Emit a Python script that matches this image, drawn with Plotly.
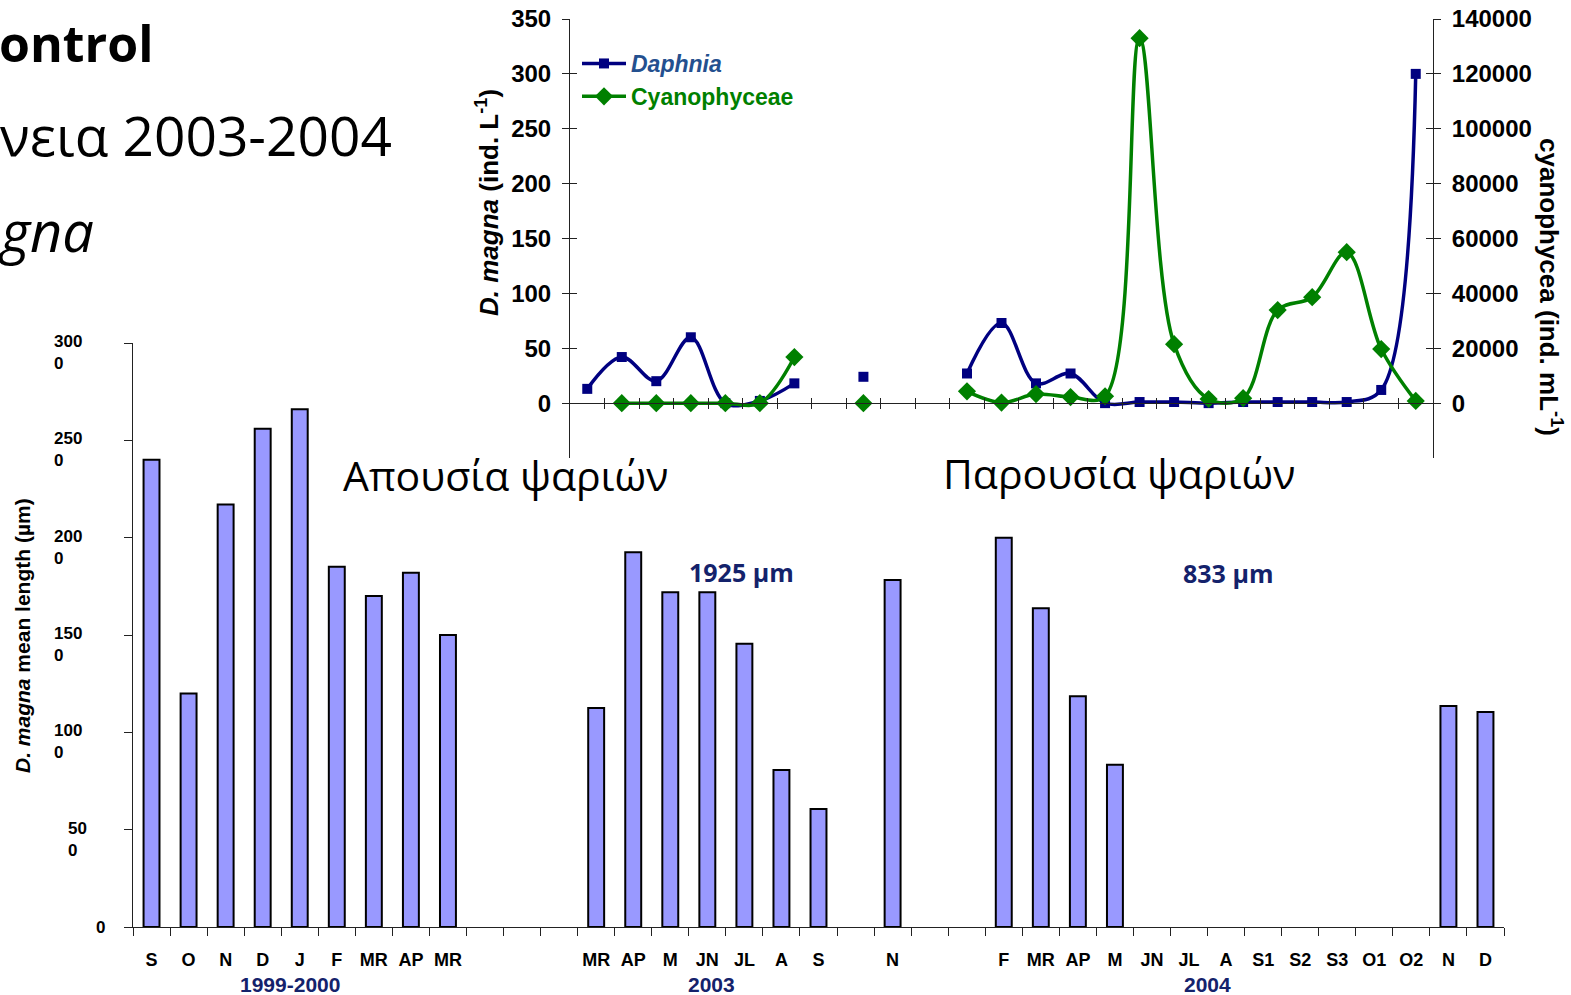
import plotly.graph_objects as go

W, H = 1571, 995

# ---- D. magna mean body length per sampling month (bars) ----
months = ["S", "O", "N", "D", "J", "F", "MR", "AP", "MR", "", "", "",
          "MR", "AP", "M", "JN", "JL", "A", "S", "", "N", "", "",
          "F", "MR", "AP", "M", "JN", "JL", "A", "S1", "S2", "S3", "O1", "O2", "N", "D"]
mean_length = [2400, 1200, 2170, 2560, 2660, 1850, 1700, 1820, 1500, None, None, None,
               1125, 1925, 1720, 1720, 1455, 806, 606, None, 1782, None, None,
               2000, 1638, 1186, 833, None, None, None, None, None, None, None, None, 1135, 1104]
length_ticks = [0, 500, 1000, 1500, 2000, 2500, 3000]
length_tick_text = ["0", "50<br>0", "100<br>0", "150<br>0", "200<br>0", "250<br>0", "300<br>0"]
periods = ["1999-2000", "2003", "2004"]
period_pos = [3.75, 15.1, 28.5]

# ---- abundance panel: Daphnia (left axis) and Cyanophyceae (right axis) ----
daphnia = [13, 42, 20, 60, 0, 2, 18, None, 24, None, None, 27, 73, 18, 27,
           0, 1, 1, 0, 1, 1, 1, 1, 12, 300]
cyano = [None, 0, 0, 0, 0, 0, 16800, None, 0, None, None, 4300, 200, 3300, 2200,
         2500, 133000, 21500, 1500, 1800, 33900, 38600, 55000, 19700, 800]
daphnia_ticks = [0, 50, 100, 150, 200, 250, 300, 350]
cyano_ticks = [0, 20000, 40000, 60000, 80000, 100000, 120000, 140000]


def px(x):
    return x / W


def py(y):
    return 1 - y / H


AX = "#222222"
BOLD = dict(family="Arial", color="black", weight="bold")

fig = go.Figure()

fig.add_trace(go.Bar(
    x=list(range(len(months))), y=mean_length, xaxis="x", yaxis="y",
    width=0.43, marker=dict(color="#9999FF", line=dict(color="black", width=2)),
    showlegend=False, hoverinfo="skip"))

fig.add_trace(go.Scatter(
    x=list(range(len(daphnia))), y=daphnia, xaxis="x2", yaxis="y2",
    mode="lines+markers", connectgaps=False,
    line=dict(color="#000080", width=3.5, shape="spline", smoothing=1),
    marker=dict(symbol="square", size=10, color="#000080"),
    name="<span style='color:#24508F'><i>Daphnia</i></span>", legendrank=1))

fig.add_trace(go.Scatter(
    x=list(range(len(cyano))), y=cyano, xaxis="x2", yaxis="y3",
    mode="lines+markers", connectgaps=False,
    line=dict(color="#008000", width=3.5, shape="spline", smoothing=1),
    marker=dict(symbol="diamond", size=14, color="#008000"),
    name="<span style='color:#008000'>Cyanophyceae</span>", legendrank=2))

# helper traces so the tick-only overlay axes are drawn
for xa, ya in [("x3", "y2"), ("x2", "y4"), ("x2", "y5")]:
    fig.add_trace(go.Scatter(x=[None], y=[None], xaxis=xa, yaxis=ya,
                             showlegend=False, hoverinfo="skip"))

boundaries_bottom = [i - 0.5 for i in range(len(months) + 1)]
boundaries_top = [i + 0.5 for i in range(len(daphnia) - 1)]
labelled = [i for i, m in enumerate(months) if m]
top_pos = py(403)

common = dict(automargin=False, showgrid=False, zeroline=False, tickcolor=AX)

fig.update_layout(
    width=W, height=H, margin=dict(l=0, r=0, t=0, b=0, autoexpand=False),
    paper_bgcolor="white", plot_bgcolor="rgba(0,0,0,0)",
    showlegend=True,
    legend=dict(x=px(577), y=py(42), xanchor="left", yanchor="top",
                bgcolor="rgba(0,0,0,0)", font=dict(family="Arial", size=23, weight="bold"),
                itemwidth=44, tracegroupgap=0),
    xaxis=dict(domain=[px(133), px(1504)], range=[-0.5, len(months) - 0.5], anchor="y",
               showline=True, linecolor=AX, linewidth=1,
               tickmode="array", tickvals=labelled, ticktext=[months[i] for i in labelled],
               ticks="", tickfont=dict(size=18, **BOLD), ticklabelstandoff=16,
               minor=dict(tickmode="array", tickvals=boundaries_bottom, ticks="outside",
                          ticklen=8, tickcolor=AX, showgrid=False), **common),
    yaxis=dict(domain=[py(927), py(343)], range=[0, 3000], anchor="x",
               showline=True, linecolor=AX, linewidth=1,
               tickmode="array", tickvals=length_ticks, ticks="outside", ticklen=8,
               showticklabels=False, **common),
    xaxis2=dict(domain=[px(570), px(1433)], range=[-0.5, len(daphnia) - 0.5],
                anchor="free", position=top_pos, showline=True, linecolor=AX, linewidth=1,
                tickmode="array", tickvals=boundaries_top,
                ticks="outside", ticklen=5, showticklabels=False, **common),
    xaxis3=dict(overlaying="x2", range=[-0.5, len(daphnia) - 0.5], anchor="free",
                position=top_pos, showline=False,
                tickmode="array", tickvals=boundaries_top, ticks="inside", ticklen=5,
                showticklabels=False, **common),
    yaxis2=dict(domain=[py(458), py(19)], range=[-50, 350], anchor="x2",
                showline=True, linecolor=AX, linewidth=1,
                tickmode="array", tickvals=daphnia_ticks,
                ticktext=[str(v) for v in daphnia_ticks], ticks="outside", ticklen=7,
                tickfont=dict(size=24, **BOLD), ticklabelstandoff=6, **common),
    yaxis4=dict(overlaying="y2", anchor="x2", side="left", range=[-50, 350],
                showline=False, tickmode="array",
                tickvals=daphnia_ticks, ticks="inside", ticklen=7,
                showticklabels=False, **common),
    yaxis3=dict(overlaying="y2", anchor="x2", side="right", range=[-20000, 140000],
                showline=True, linecolor=AX, linewidth=1,
                tickmode="array", tickvals=cyano_ticks,
                ticktext=[str(v) for v in cyano_ticks], ticks="outside", ticklen=7,
                tickfont=dict(size=24, **BOLD), ticklabelstandoff=6, **common),
    yaxis5=dict(overlaying="y2", anchor="x2", side="right", range=[-20000, 140000],
                showline=False, tickmode="array",
                tickvals=cyano_ticks, ticks="inside", ticklen=7,
                showticklabels=False, **common),
)

ann = []

# wrapped tick labels of the length axis (lines left aligned)
for v, t in zip(length_ticks, length_tick_text):
    if "<br>" in t:
        left = 66 if len(t.split("<br>")[0]) == 2 else 52
        ann.append(dict(x=px(left), xref="paper", y=v, yref="y", text=t, showarrow=False,
                        xanchor="left", yanchor="top", yshift=13, align="left",
                        font=dict(size=17, **BOLD)))
    else:
        ann.append(dict(x=px(107), xref="paper", y=v, yref="y", text=t, showarrow=False,
                        xanchor="right", yanchor="middle", font=dict(size=17, **BOLD)))

for label, pos in zip(periods, period_pos):
    ann.append(dict(x=pos, xref="x", y=py(984), yref="paper", text=label, showarrow=False,
                    xanchor="center", yanchor="middle",
                    font=dict(family="Arial", size=21, color="#14226B", weight="bold")))

# axis titles
ann.append(dict(x=px(22), y=py(636), xref="paper", yref="paper", textangle=-90,
                xanchor="center", yanchor="middle",
                text="<i>D. magna</i> mean length (µm)", showarrow=False,
                font=dict(size=21, **BOLD)))
ann.append(dict(x=px(487), y=py(202), xref="paper", yref="paper", textangle=-90,
                xanchor="center", yanchor="middle",
                text="<i>D. magna</i> (ind. L<sup>-1</sup>)", showarrow=False,
                font=dict(size=26, **BOLD)))
ann.append(dict(x=px(1551), y=py(287), xref="paper", yref="paper", textangle=90,
                xanchor="center", yanchor="middle",
                text="cyanophycea (ind. mL<sup>-1</sup>)", showarrow=False,
                font=dict(size=26, **BOLD)))

# period captions and mean sizes
for text, x, y in [("Απουσία ψαριών", 505, 475), ("Παρουσία ψαριών", 1119, 473)]:
    ann.append(dict(x=px(x), y=py(y), xref="paper", yref="paper", text=text, showarrow=False,
                    xanchor="center", yanchor="middle",
                    font=dict(family="Open Sans", size=41, color="black")))
for text, x, y in [("1925 µm", 741, 572), ("833 µm", 1228, 573)]:
    ann.append(dict(x=px(x), y=py(y), xref="paper", yref="paper", text=text, showarrow=False,
                    xanchor="center", yanchor="middle",
                    font=dict(family="Open Sans", size=25, color="#14226B", weight="bold")))

# slide heading lines
ann.append(dict(x=px(-3), y=py(43), xref="paper", yref="paper", text="ontrol",
                showarrow=False, xanchor="left", yanchor="middle",
                font=dict(family="Open Sans", size=50, color="black", weight="bold")))
ann.append(dict(x=px(-2), y=py(134), xref="paper", yref="paper", text="νεια 2003-2004",
                showarrow=False, xanchor="left", yanchor="middle",
                font=dict(family="Open Sans", size=55, color="black")))
ann.append(dict(x=px(-4), y=py(230), xref="paper", yref="paper", text="<i>gna</i>",
                showarrow=False, xanchor="left", yanchor="middle",
                font=dict(family="Open Sans", size=56, color="black")))

fig.update_layout(annotations=ann)

fig.write_html("out.html")
